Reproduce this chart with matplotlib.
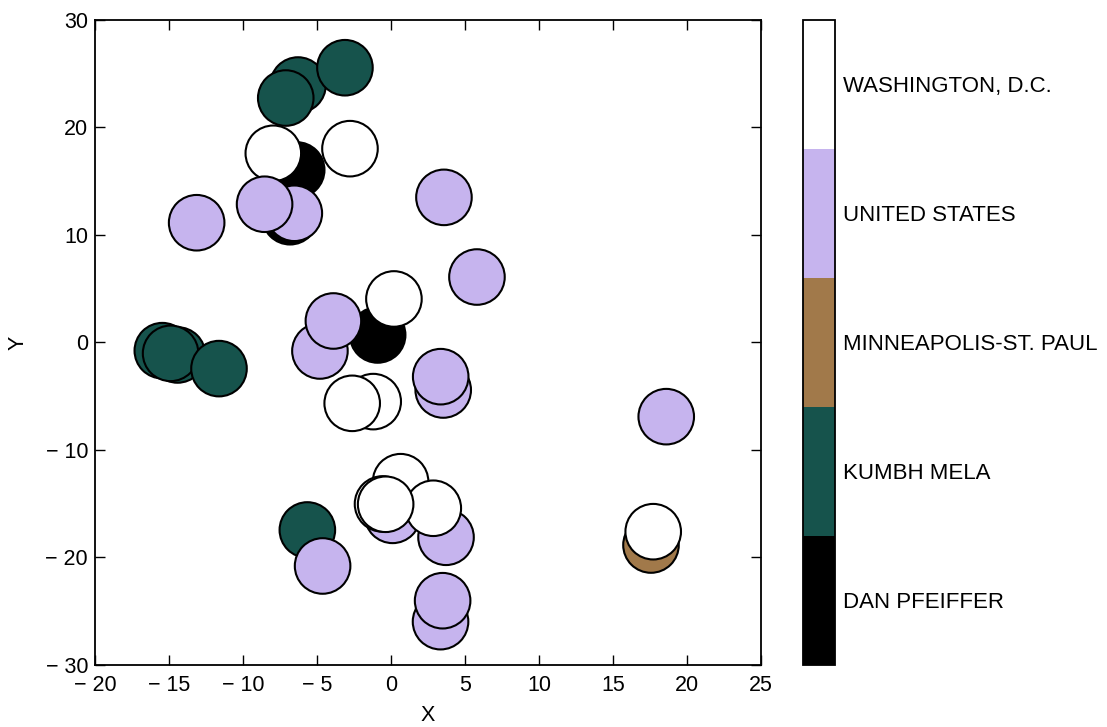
import matplotlib
matplotlib.use("Agg")
import matplotlib.pyplot as plt
import numpy as np
from matplotlib.colors import ListedColormap, BoundaryNorm
from matplotlib.cm import ScalarMappable

plt.rcParams['font.family'] = ['Liberation Sans', 'DejaVu Sans']

categories = ["DAN PFEIFFER", "KUMBH MELA", "MINNEAPOLIS-ST. PAUL",
              "UNITED STATES", "WASHINGTON, D.C."]

# drawing order matters (later points on top)
xs = [-6.28, -7.11, -3.11,
      -6.37, -7.95, -2.77,
      -6.82, -6.53, -8.54, -13.13, 3.58, 5.81,
      -15.45, -14.42, -14.89, -11.62,
      -0.90, -4.80, -3.89, 0.20,
      -1.20, -2.62, 3.53, 3.36, 18.6,
      -5.65, -4.62, 0.11, 3.72, 0.65, 2.86, -0.57, -0.36,
      3.35, 3.49,
      17.57, 17.72]
ys = [23.95, 22.74, 25.56,
      16.05, 17.60, 18.03,
      11.70, 12.02, 12.86, 11.14, 13.50, 6.09,
      -0.76, -1.16, -1.01, -2.43,
      0.70, -0.79, 2.00, 4.05,
      -5.50, -5.66, -4.42, -3.18, -6.90,
      -17.44, -20.79, -16.08, -18.12, -12.95, -15.42, -15.02, -15.05,
      -25.97, -24.02,
      -18.84, -17.60]
cats = [1, 1, 1,
        0, 4, 4,
        0, 3, 3, 3, 3, 3,
        1, 1, 1, 1,
        0, 3, 3, 4,
        4, 4, 3, 3, 3,
        1, 3, 3, 3, 4, 4, 4, 4,
        3, 3,
        2, 4]

xticks = [-20, -15, -10, -5, 0, 5, 10, 15, 20, 25]
yticks = [-30, -20, -10, 0, 10, 20, 30]

def fmt(v):
    return "\u2212 %d" % abs(v) if v < 0 else "%d" % v

base = plt.get_cmap('cubehelix')
cmap = ListedColormap([base(v) for v in np.linspace(0, 1, len(categories))])
norm = BoundaryNorm(np.arange(-0.5, len(categories) + 0.5, 1), cmap.N)

fig = plt.figure(figsize=(11.07, 7.27), dpi=100)
ax = fig.add_axes([0.0858, 0.0853, 0.6016, 0.8872])
ax.scatter(xs, ys, c=cats, cmap=cmap, norm=norm, s=1600,
           edgecolors='black', linewidths=1.5, zorder=2)
ax.set_xlim(-20, 25)
ax.set_ylim(-30, 30)
ax.set_xticks(xticks)
ax.set_xticklabels([fmt(v) for v in xticks])
ax.set_yticks(yticks)
ax.set_yticklabels([fmt(v) for v in yticks])
ax.tick_params(direction='in', top=True, right=True, length=7, width=1,
               labelsize=15.5)
ax.tick_params(axis='x', pad=7.5)
ax.tick_params(axis='y', pad=5)
for sp in ax.spines.values():
    sp.set_linewidth(1.3)
ax.set_xlabel("X", fontsize=15.5, labelpad=6)
ax.set_ylabel("Y", fontsize=15.5, labelpad=12)

cax = fig.add_axes([0.7254, 0.0853, 0.0289, 0.8872])
sm = ScalarMappable(cmap=cmap, norm=norm)
cb = fig.colorbar(sm, cax=cax, ticks=range(len(categories)))
cb.ax.minorticks_off()
cb.ax.set_yticklabels(categories)
cb.ax.tick_params(which='both', length=0, labelsize=16, pad=6)
cb.outline.set_linewidth(1.3)

fig.savefig("out.png", dpi=100)
